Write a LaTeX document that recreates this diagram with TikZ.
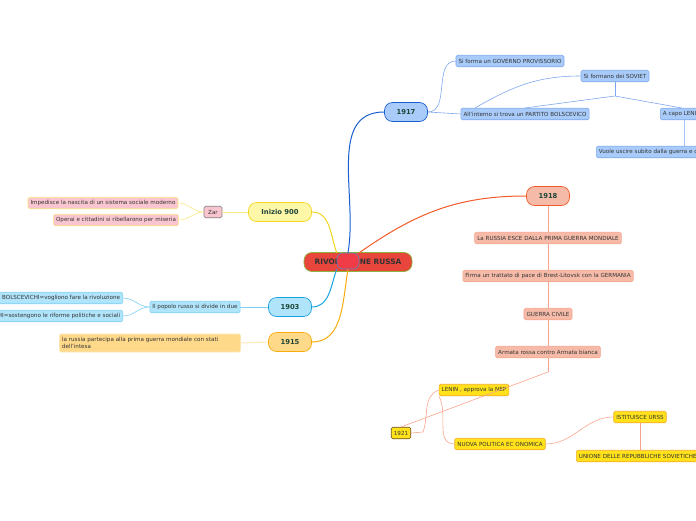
\documentclass[tikz,border=0pt]{standalone}
\usepackage{fontspec}
\setmainfont{DejaVu Sans}
\usepackage{tikz}
\usetikzlibrary{arrows.meta, positioning, calc}
\definecolor{redmain}{RGB}{232,69,60}
\definecolor{olive}{RGB}{141,179,58}
\definecolor{capblue}{RGB}{240,60,70}
\definecolor{blueA}{RGB}{26,95,208}
\definecolor{blueF}{RGB}{168,203,249}
\definecolor{blueL}{RGB}{126,168,238}
\definecolor{salA}{RGB}{240,90,40}
\definecolor{salF}{RGB}{246,187,168}
\definecolor{salL}{RGB}{248,164,140}
\definecolor{yelF}{RGB}{255,226,26}
\definecolor{yelB}{RGB}{245,170,40}
\definecolor{ivoF}{RGB}{255,247,168}
\definecolor{ivoA}{RGB}{242,214,34}
\definecolor{ivoL}{RGB}{250,232,130}
\definecolor{pinkF}{RGB}{249,198,208}
\definecolor{cyaA}{RGB}{27,163,224}
\definecolor{cyaF}{RGB}{176,228,250}
\definecolor{cyaL}{RGB}{127,208,245}
\definecolor{oraA}{RGB}{248,172,16}
\definecolor{oraF}{RGB}{255,217,138}
\definecolor{oraL}{RGB}{253,231,183}
\definecolor{txtdark}{RGB}{30,70,55}

\begin{document}
\begin{tikzpicture}[
    x=1pt, y=-1pt,
    year/.style={rounded corners=8pt, draw, line width=0.7pt,
                 minimum width=43pt, minimum height=19pt, inner sep=0pt,
                 font=\fontsize{6.8}{7}\selectfont\bfseries, text=txtdark},
    leaf/.style={rounded corners=1.5pt, draw, line width=0.6pt,
                 minimum height=11.5pt, inner sep=2.6pt,
                 font=\fontsize{5.6}{6.4}\selectfont, text=black!80},
    link/.style={line width=0.6pt},
    branch/.style={line width=1pt}
]
\useasboundingbox (0,0) rectangle (696,520);
\clip (0,0) rectangle (696,520);

% nodo centrale
\node[year, fill=redmain, draw=olive, minimum width=108pt, font=\fontsize{7.4}{8}\selectfont\bfseries, text=black!80]
    (root) at (358,262) {RIVOLUZIONE RUSSA};
\node[rounded corners=6pt, draw=blueL!80!black, fill=capblue, line width=0.6pt,
      minimum width=22pt, minimum height=16pt, inner sep=0pt] (cap) at (348,261) {};

% anni
\node[year, fill=blueF, draw=blueA]   (y1917) at (406,112) {1917};
\node[year, fill=salF, draw=salA]     (y1918) at (548,196) {1918};
\node[year, fill=ivoF, draw=ivoA, minimum width=63pt] (y900) at (280,212) {Inizio 900};
\node[year, fill=cyaF, draw=cyaA]     (y1903) at (290,307) {1903};
\node[year, fill=oraF, draw=oraA]     (y1915) at (290,342) {1915};

% rami dal centro
\draw[branch, blueA] (cap.north) to[out=80, in=180] (y1917.west);
\draw[branch, salA]  (cap.north east) to[out=35, in=180] (y1918.west);
\draw[branch, ivoA]  (cap.north west) to[out=110, in=0] (y900.east);
\draw[branch, cyaA]  (cap.south west) to[out=-110, in=0] (y1903.east);
\draw[branch, oraA]  (cap.south) to[out=-100, in=0] (y1915.east);

% 1917
\node[leaf, fill=blueF, draw=blueL] (gov) at (510,61) {Si forma un GOVERNO PROVISSORIO};
\node[leaf, fill=blueF, draw=blueL] (sov) at (615,76) {Si formano dei SOVIET};
\node[leaf, fill=blueF, draw=blueL] (par) at (525,114) {All'interno si trova un PARTITO BOLSCEVICO};
\node[leaf, fill=blueF, draw=blueL, anchor=west] (len) at (660,114) {A capo LENIN};
\node[leaf, fill=blueF, draw=blueL, anchor=west] (vuo) at (596,152) {Vuole uscire subito dalla guerra e concludere la pace};
\coordinate (sj) at (615,96);
\coordinate (pl) at (475,108);
\draw[link, blueL] (y1917.east) to[out=0, in=180] (gov.west);
\draw[link, blueL] (y1917.east) -- (par.west);
\draw[link, blueL] (pl) to[out=30, in=180] (sov.west);
\draw[link, blueL] (sov.south) -- (sj);
\draw[link, blueL] (sj) -- (par.north);
\draw[link, blueL] (sj) -- (len.north);
\draw[link, blueL!70] (len.south -| 684,0) -- (vuo.north -| 684,0);

% 1918
\node[leaf, fill=salF, draw=salL] (esc) at (548,238) {La RUSSIA ESCE DALLA PRIMA GUERRA MONDIALE};
\node[leaf, fill=salF, draw=salL] (bre) at (548,276) {Firma un trattato di pace di Brest-Litovsk con la GERMANIA};
\node[leaf, fill=salF, draw=salL] (civ) at (548,314) {GUERRA CIVILE};
\node[leaf, fill=salF, draw=salL] (arm) at (548,352) {Armata rossa contro Armata bianca};
\draw[link, salL] (y1918.south) -- (esc.north);
\draw[link, salL] (esc.south) -- (bre.north);
\draw[link, salL] (bre.south) -- (civ.north);
\draw[link, salL] (civ.south) -- (arm.north);

% 1921
\node[leaf, fill=yelF, draw=black!55!yelB] (y1921) at (401,433) {1921};
\node[leaf, fill=yelF, draw=yelB] (nep) at (474,390) {LENIN , approva la NEP};
\node[leaf, fill=yelF, draw=yelB] (npe) at (500,444) {NUOVA POLITICA EC ONOMICA};
\node[leaf, fill=yelF, draw=yelB] (urs) at (640,417) {ISTITUISCE URSS};
\node[leaf, fill=yelF, draw=yelB, anchor=west] (uni) at (576,456) {UNIONE DELLE REPUBBLICHE SOVIETICHE SOCIALISTE};
\coordinate (aj) at (548,372);
\coordinate (yk) at (423,432);
\draw[link, salL] (arm.south) -- (aj);
\draw[link, salL] (aj) -- (y1921.north);
\draw[link, salL] (y1921.east) -- (yk) to[out=70, in=200] (nep.west);
\draw[link, salL] (nep.south west) to[out=-60, in=180] (npe.west);
\draw[link, salL] (npe.east) to[out=0, in=180] (urs.west);
\draw[link, salL] (urs.south) -- (urs.south |- uni.north);

% Inizio 900
\node[leaf, fill=pinkF, draw=black!50, minimum width=18pt] (zar) at (213,212) {Zar};
\node[leaf, fill=pinkF, draw=ivoL] (imp) at (103,203) {Impedisce la nascita di un sistema sociale moderno};
\node[leaf, fill=pinkF, draw=ivoL] (ope) at (116,220) {Operai e cittadini si ribellarono per miseria};
\draw[link, ivoL] (y900.west) -- (zar.east);
\draw[link, ivoL] (zar.west) to[out=180, in=0] (imp.east);
\draw[link, ivoL] (zar.west) to[out=180, in=0] (ope.east);

% 1903
\node[leaf, fill=cyaF, draw=cyaL] (div) at (195,307) {Il popolo russo si divide in due};
\node[leaf, fill=cyaF, draw=cyaL, anchor=east] (bol) at (123,298) {I BOLSCEVICHI=vogliono fare la rivoluzione};
\node[leaf, fill=cyaF, draw=cyaL, anchor=east] (men) at (123,316) {I MENSCEVICHI=sostengono le riforme politiche e sociali};
\draw[link, cyaL] (y1903.west) -- (div.east);
\draw[link, cyaL] (div.west) to[out=180, in=0] (bol.east);
\draw[link, cyaL] (div.west) to[out=180, in=0] (men.east);

% 1915
\node[leaf, fill=oraF, draw=oraL, text width=176pt, align=left, minimum height=18pt] (int) at (150,343)
    {la russia partecipa alla prima guerra mondiale con stati dell'intesa};
\draw[link, oraL, line width=1pt] (y1915.west) -- (int.east);
\end{tikzpicture}
\end{document}
